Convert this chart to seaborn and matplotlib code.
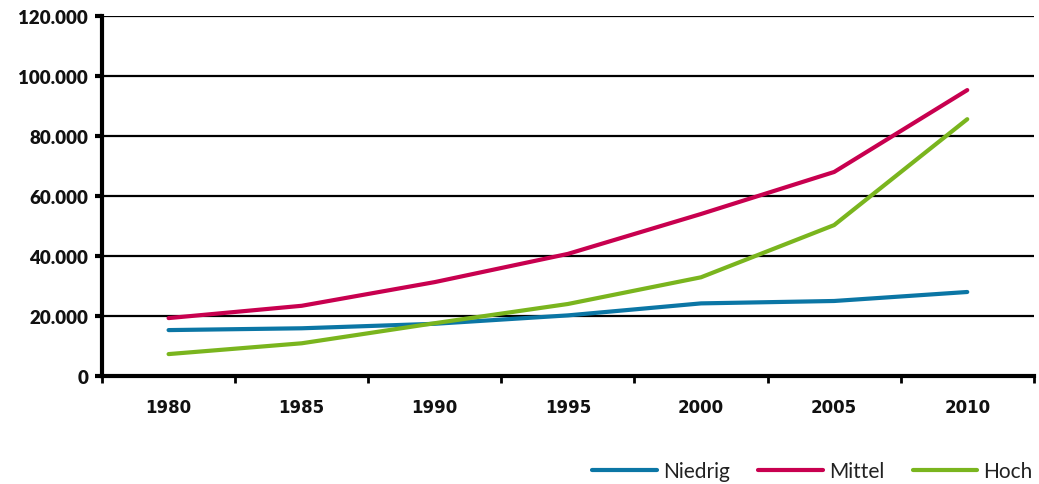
import matplotlib
matplotlib.use("Agg")
import matplotlib.pyplot as plt
import seaborn as sns
import pandas as pd
from matplotlib.ticker import FuncFormatter, FixedLocator

years = ["1980", "1985", "1990", "1995", "2000", "2005", "2010"]
niedrig = [15300, 15900, 17400, 20200, 24200, 25000, 28000]
mittel = [19300, 23400, 31300, 40700, 54000, 68000, 95300]
hoch = [7300, 10900, 17600, 24000, 32900, 50300, 85600]
series_names = ["Niedrig", "Mittel", "Hoch"]
colors = ["#0B76A5", "#C8004F", "#7AB51E"]

rows = []
for name, vals in zip(series_names, [niedrig, mittel, hoch]):
    for y, v in zip(years, vals):
        rows.append({"Jahr": y, "Wert": v, "Szenario": name})
df = pd.DataFrame(rows)

sns.set_theme(style="white")
plt.rcParams["font.family"] = ["Lato", "DejaVu Sans"]

fig = plt.figure(figsize=(10.39, 4.85), dpi=100)
ax = fig.add_axes([0.0982, 0.2227, 0.8968, 0.7423])

sns.lineplot(data=df, x="Jahr", y="Wert", hue="Szenario", palette=colors,
             hue_order=series_names, linewidth=3, ax=ax, sort=False,
             solid_capstyle="round", legend=True)

ax.set_xlim(-0.5, 6.5)
ax.set_ylim(0, 120000)
ax.set_yticks(range(0, 120001, 20000))
ax.yaxis.set_major_formatter(FuncFormatter(lambda v, p: "0" if v == 0 else f"{int(v):,}".replace(",", ".")))
ax.grid(axis="y", color="black", linewidth=1.6)
ax.set_axisbelow(True)
ax.set_xlabel("")
ax.set_ylabel("")

for s in ["top", "right"]:
    ax.spines[s].set_visible(False)
for s in ["left", "bottom"]:
    ax.spines[s].set_color("black")
    ax.spines[s].set_linewidth(3)

ax.xaxis.set_minor_locator(FixedLocator([i - 0.5 for i in range(len(years) + 1)]))
ax.tick_params(axis="x", which="major", length=0, pad=16)
ax.tick_params(axis="x", which="minor", length=5, width=2, color="black", bottom=True)
ax.tick_params(axis="y", which="major", length=5, width=3, color="black", left=True, pad=5)
for lbl in ax.get_xticklabels():
    lbl.set_fontfamily(["Liberation Sans Narrow", "DejaVu Sans"])
    lbl.set_fontweight("bold")
    lbl.set_fontsize(12)
    lbl.set_color("#111111")
for lbl in ax.get_yticklabels():
    lbl.set_fontweight("heavy")
    lbl.set_fontsize(13.5)
    lbl.set_color("#111111")

leg = ax.legend(loc="lower right", bbox_to_anchor=(1.002, -0.012), bbox_transform=fig.transFigure,
                ncol=3, frameon=False, fontsize=15, handlelength=3.1, handletextpad=0.3,
                columnspacing=1.35, borderaxespad=0.0)
for line in leg.get_lines():
    line.set_linewidth(3)
    line.set_solid_capstyle("round")
for t in leg.get_texts():
    t.set_color("#222222")

fig.savefig("out.png", dpi=100)
